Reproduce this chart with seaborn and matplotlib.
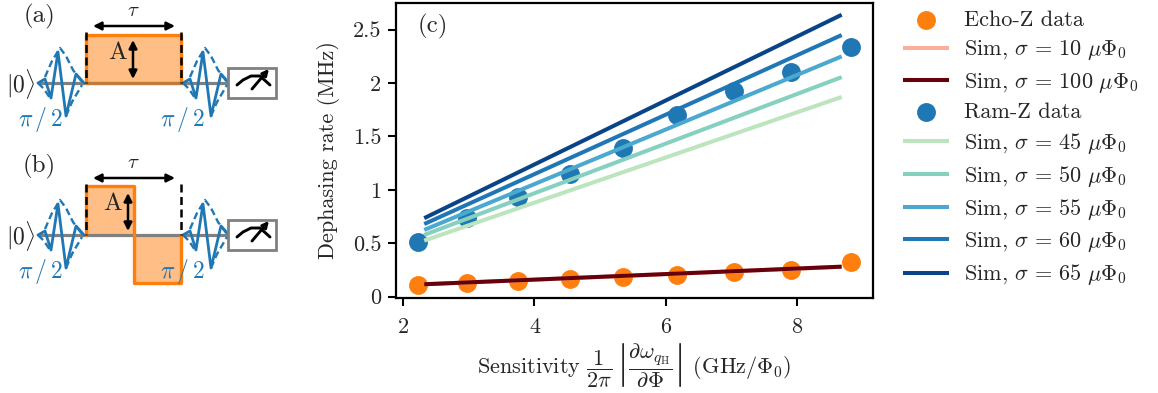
import matplotlib
matplotlib.use("Agg")
import matplotlib.pyplot as plt
import seaborn as sns
from matplotlib.patches import Rectangle

sns.set_style("white")
plt.rcParams['font.family'] = ['cmr10', 'DejaVu Serif']
plt.rcParams['mathtext.fontset'] = 'cm'
plt.rcParams['axes.unicode_minus'] = False
plt.rcParams['axes.formatter.use_mathtext'] = True

# data
sensitivity = [2.23, 2.97, 3.745, 4.54, 5.35, 6.17, 7.04, 7.91, 8.82]
echo_data = [0.11, 0.125, 0.147, 0.163, 0.185, 0.203, 0.231, 0.247, 0.328]
ram_data = [0.51, 0.74, 0.937, 1.153, 1.39, 1.70, 1.93, 2.10, 2.34]

sim_x = [2.32, 8.68]
echo_sim_10 = [0.116, 0.279]
echo_sim_100 = [0.116, 0.281]
ram_sim_45 = [0.525, 1.87]
ram_sim_50 = [0.578, 2.056]
ram_sim_55 = [0.625, 2.25]
ram_sim_60 = [0.68, 2.45]
ram_sim_65 = [0.735, 2.64]

x_ticks = [2, 4, 6, 8]
y_ticks = [0, 0.5, 1, 1.5, 2, 2.5]
y_labels = ['0', '0.5', '1', '1.5', '2', '2.5']

BLUE = '#1f77b4'
ORANGE = '#ff7f0e'
GRAY = '#808080'

fig = plt.figure(figsize=(11.58, 3.93), dpi=100)
ax = fig.add_axes([396 / 1158, 1 - 297.5 / 393, 477 / 1158, 294.5 / 393])

pt = 16
lw = 2.9
sns.scatterplot(x=sensitivity, y=echo_data, color=ORANGE, s=185, linewidth=0,
                label='Echo-Z data', ax=ax, zorder=2)
sns.lineplot(x=sim_x, y=echo_sim_10, color='#fcae96', linewidth=lw,
             label=r'Sim, $\sigma\,=\,10\ \mu\Phi_0$', ax=ax, zorder=3, solid_capstyle='butt')
sns.lineplot(x=sim_x, y=echo_sim_100, color='#67000d', linewidth=lw,
             label=r'Sim, $\sigma\,=\,100\ \mu\Phi_0$', ax=ax, zorder=3, solid_capstyle='butt')
sns.scatterplot(x=sensitivity, y=ram_data, color=BLUE, s=185, linewidth=0,
                label='Ram-Z data', ax=ax, zorder=2)
sim_series = [(45, ram_sim_45, '#bce4bd'), (50, ram_sim_50, '#85d0be'),
              (55, ram_sim_55, '#4ba9cf'), (60, ram_sim_60, '#1f78b5'),
              (65, ram_sim_65, '#0a4488')]
for sigma, vals, col in sim_series:
    sns.lineplot(x=sim_x, y=vals, color=col, linewidth=lw,
                 label=r'Sim, $\sigma\,=\,%d\ \mu\Phi_0$' % sigma, ax=ax, zorder=3,
                 solid_capstyle='butt')

ax.set_xlim(1.89, 9.157)
ax.set_ylim(-0.008, 2.75)
ax.set_xticks(x_ticks)
ax.set_xticklabels([str(t) for t in x_ticks])
ax.set_yticks(y_ticks)
ax.set_yticklabels(y_labels)
ax.tick_params(direction='out', length=5.5, width=1.5, color='black', labelsize=pt,
               left=True, bottom=True, pad=5)
ax.tick_params(axis='x', pad=9)
for s in ax.spines.values():
    s.set_linewidth(1.6)
    s.set_color('black')
ax.set_ylabel('Dephasing rate (MHz)', fontsize=pt, labelpad=9.5)
ax.set_xlabel(r'Sensitivity $\dfrac{1}{2\pi}\,\left|\dfrac{\partial\omega_{q_{\mathrm{H}}}}{\partial\Phi}\right|$ (GHz/$\Phi_0$)',
              fontsize=pt, labelpad=3)
fig.text(418 / 1158, 1 - 26 / 393, '(c)', fontsize=18, va='center', ha='left')

ax.legend(loc='upper left', bbox_to_anchor=(887 / 1158, 1 + 5 / 393),
          bbox_transform=fig.transFigure, frameon=False, fontsize=pt,
          labelspacing=0.37, handlelength=2.1, handletextpad=0.68, borderpad=0.2)

# schematics (a) and (b), pixel coordinates of the figure
sk = fig.add_axes([0, 0, 1, 1], zorder=5)
sk.set_xlim(0, 1158)
sk.set_ylim(393, 0)
sk.axis('off')
sk.patch.set_alpha(0)

pulse_x = [38, 45, 51, 58, 66, 76, 84]
pulse_y = [0, -4, 15, -31, 33, -9, 0]
env_top_x = [45, 52, 60, 66, 73, 82]
env_top_y = [-6, -22, -35, -27, -13, -1]
env_bot_x = [38, 44, 50]
env_bot_y = [0, 6, 15]
env_bot2_x = [66, 72, 82]
env_bot2_y = [33, 19, 2]


def pulse(dx, y0):
    sk.plot([x + dx for x in pulse_x], [y0 + y for y in pulse_y], color=BLUE, lw=2.0, zorder=6)
    for ex, ey in [(env_top_x, env_top_y), (env_bot_x, env_bot_y), (env_bot2_x, env_bot2_y)]:
        sk.plot([x + dx for x in ex], [y0 + y for y in ey], color=BLUE, lw=1.7,
                ls=(0, (3, 1.6)), zorder=6)


def meter(y0):
    sk.add_patch(Rectangle((228, y0 - 15), 48, 30, fc='white', ec=GRAY, lw=2.0, zorder=6))
    sk.plot([237, 243, 251, 260, 270], [y0 + 2, y0 - 3, y0 - 7, y0 - 7, y0 + 2],
            color='black', lw=2.1, zorder=7)
    sk.annotate('', xy=(269, y0 - 14), xytext=(252, y0 + 6), zorder=7,
                arrowprops=dict(arrowstyle='-|>', color='black', lw=2.1, shrinkA=0, shrinkB=0,
                                mutation_scale=9))


def double_arrow(x0, y0, x1, y1):
    sk.annotate('', xy=(x1, y1), xytext=(x0, y0),
                arrowprops=dict(arrowstyle='<|-|>', color='black', lw=1.8, shrinkA=0, shrinkB=0,
                                mutation_scale=12), zorder=8)


def panel(y0, lab, lab_y, tau_y):
    sk.plot([40, 228], [y0, y0], color=GRAY, lw=2.3, zorder=3)
    pulse(0, y0)
    pulse(145, y0)
    meter(y0)
    sk.text(39, lab_y, lab, fontsize=18, ha='center', va='center')
    sk.text(21, y0 + 1, r'$|0\rangle$', fontsize=17, ha='center', va='center')
    sk.text(40, y0 + 37, r'$\pi\,/\,2$', fontsize=17, color=BLUE, ha='center', va='center', zorder=9)
    sk.text(182, y0 + 37, r'$\pi\,/\,2$', fontsize=17, color=BLUE, ha='center', va='center', zorder=9)
    sk.text(133, tau_y - 15, r'$\tau$', fontsize=15, ha='center', va='center')
    double_arrow(93, tau_y, 175, tau_y)
    for xv in (86, 181):
        sk.plot([xv, xv], [tau_y + 6, y0], color='black', lw=1.8, ls=(0, (3.2, 1.8)), zorder=6)


# (a)
panel(83, '(a)', 16, 26)
sk.add_patch(Rectangle((86, 35), 95, 48, fc=ORANGE, alpha=0.5, ec='none', zorder=2))
sk.plot([86, 86, 181, 181], [83, 35, 35, 83], color=ORANGE, lw=2.4, zorder=4)
sk.plot([86, 181], [83, 83], color='#c07a3a', lw=2.3, zorder=4)
sk.text(118, 53, 'A', fontsize=18, ha='center', va='center')
double_arrow(133, 40, 133, 79)

# (b)
panel(235, '(b)', 166, 178)
sk.add_patch(Rectangle((86, 186), 47.5, 49, fc=ORANGE, alpha=0.5, ec='none', zorder=2))
sk.add_patch(Rectangle((133.5, 235), 47.5, 48, fc=ORANGE, alpha=0.5, ec='none', zorder=2))
sk.plot([86, 86, 133.5, 133.5, 181, 181], [235, 186, 186, 283, 283, 235], color=ORANGE, lw=2.4, zorder=4)
sk.text(113, 204, 'A', fontsize=18, ha='center', va='center')
double_arrow(128, 193, 128, 231)

fig.savefig('out.png', dpi=100)
